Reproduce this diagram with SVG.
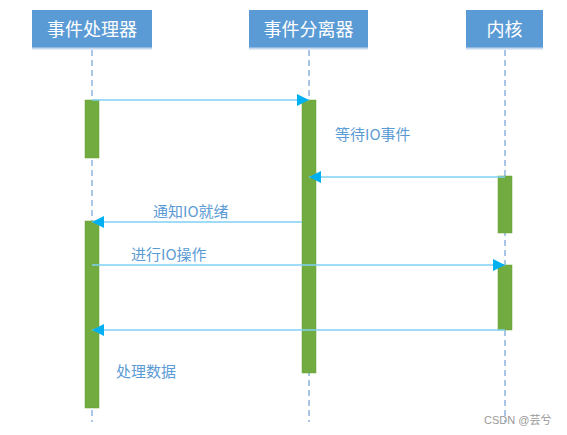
<svg xmlns="http://www.w3.org/2000/svg" width="567" height="435" viewBox="0 0 567 435">
<style>
.hdr{fill:#5b9bd5;}
.hdrb{stroke:#c5d8ee;stroke-width:2;}
.ht{font-family:"Noto Sans CJK SC","Liberation Sans",sans-serif;font-size:18px;fill:#ffffff;text-anchor:middle;}
.life{stroke:#a8c6e6;stroke-width:2;stroke-dasharray:6,4;fill:none;}
.act{fill:#72ac40;stroke:#6aa03a;stroke-width:0.5;}
.msg{stroke:#7fd0f4;stroke-width:1.5;fill:none;}
.lbl{font-family:"Noto Sans CJK SC","Liberation Sans",sans-serif;font-size:15px;fill:#5b9bd5;}
.wm{font-family:"Liberation Sans","Noto Sans CJK SC",sans-serif;font-size:11px;fill:#999999;}
</style>
<defs>
<marker id="ah" viewBox="0 0 10 10" refX="10" refY="5" markerWidth="12" markerHeight="12" markerUnits="userSpaceOnUse" orient="auto">
<path d="M0,0 L10,5 L0,10 Z" fill="#00b0f0"/>
</marker>
</defs>
<g id="lifelines">
<line class="life" x1="92" y1="50" x2="92" y2="422"/>
<line class="life" x1="309" y1="50" x2="309" y2="422"/>
<line class="life" x1="505" y1="50" x2="505" y2="422"/>
</g>
<g id="node-handler">
<rect class="hdr" x="32" y="10" width="120" height="38"/>
<line class="hdrb" x1="32" y1="48.5" x2="152" y2="48.5"/>
<text class="ht" x="92" y="35.5">事件处理器</text>
</g>
<g id="node-demux">
<rect class="hdr" x="249" y="10" width="119" height="38"/>
<line class="hdrb" x1="249" y1="48.5" x2="368" y2="48.5"/>
<text class="ht" x="308.5" y="35.5">事件分离器</text>
</g>
<g id="node-kernel">
<rect class="hdr" x="466" y="10" width="77" height="38"/>
<line class="hdrb" x1="466" y1="48.5" x2="543" y2="48.5"/>
<text class="ht" x="504.5" y="35.5">内核</text>
</g>
<g id="activations">
<rect class="act" x="85" y="100" width="14" height="58"/>
<rect class="act" x="302" y="100" width="14" height="273"/>
<rect class="act" x="498" y="176" width="14" height="57"/>
<rect class="act" x="85" y="221" width="14" height="187"/>
<rect class="act" x="498" y="265" width="14" height="65"/>
</g>
<g id="connectors">
<line class="msg" x1="92" y1="100" x2="309" y2="100" marker-end="url(#ah)"/>
<line class="msg" x1="505" y1="177" x2="309" y2="177" marker-end="url(#ah)"/>
<line class="msg" x1="302" y1="222" x2="92" y2="222" marker-end="url(#ah)"/>
<line class="msg" x1="92" y1="265" x2="505" y2="265" marker-end="url(#ah)"/>
<line class="msg" x1="505" y1="330" x2="92" y2="330" marker-end="url(#ah)"/>
</g>
<g id="labels">
<text class="lbl" x="335" y="140">等待IO事件</text>
<text class="lbl" x="153" y="217">通知IO就绪</text>
<text class="lbl" x="131" y="260">进行IO操作</text>
<text class="lbl" x="116" y="377">处理数据</text>
</g>
<text class="wm" x="484" y="424">CSDN @芸兮</text>
</svg>
